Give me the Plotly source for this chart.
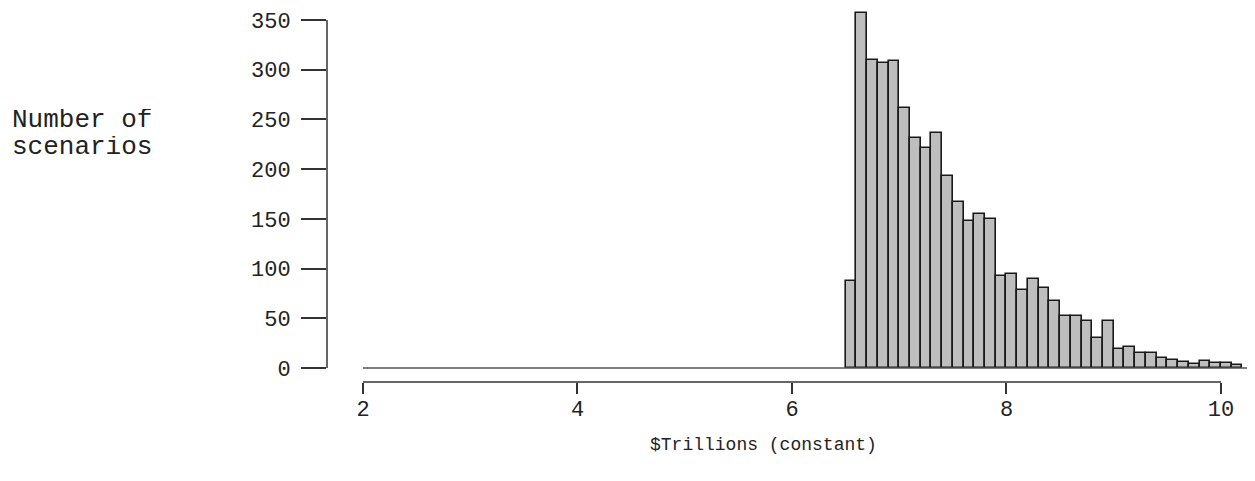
import plotly.graph_objects as go

# ---------------- data ----------------
bin_width = 0.1
first_bin_left = 6.5
counts = [88, 357, 310, 307, 309, 262, 231, 221, 236, 193,
          167, 148, 155, 150, 93, 95, 78, 90, 80, 67,
          52, 52, 47, 30, 47, 19, 21, 15, 15, 10,
          8, 6, 4, 7, 5, 5, 3]
hist_range = [2.0, 10.3]          # full extent of the (mostly empty) bins
x_ticks = [2, 4, 6, 8, 10]
y_ticks = [0, 50, 100, 150, 200, 250, 300, 350]
x_title = "$Trillions (constant)"
y_title_lines = ["Number of", "scenarios"]

bin_centers = [first_bin_left + (i + 0.5) * bin_width for i in range(len(counts))]

FONT = "Courier New, Liberation Mono, monospace"
AXC = "#333333"
TXT = "#222222"

fig = go.Figure()

# zero-height bins appear as a baseline
fig.add_trace(go.Scatter(
    x=hist_range, y=[0, 0], mode="lines",
    line=dict(color="#555555", width=1.5), hoverinfo="skip", showlegend=False))

fig.add_trace(go.Bar(
    x=bin_centers, y=counts, width=bin_width,
    marker=dict(color="#BEBEBE", line=dict(color="#1a1a1a", width=1.6)),
    showlegend=False))

W, H = 1255, 481
ml, mr, mt, mb = 319, 0, 0, 107
plot_w = W - ml - mr
plot_h = H - mt - mb

fig.update_layout(
    width=W, height=H,
    margin=dict(l=ml, r=mr, t=mt, b=mb, pad=0),
    paper_bgcolor="white", plot_bgcolor="white",
    bargap=0,
    font=dict(family=FONT, color=TXT),
    xaxis=dict(range=[1.6643, 10.392], tickvals=x_ticks, ticktext=[str(v) for v in x_ticks],
               ticks="outside", ticklen=11, tickwidth=1.5, tickcolor=AXC,
               showline=False, showgrid=False, zeroline=False,
               tickfont=dict(size=22, family=FONT, color=TXT),
               ticklabelstandoff=-4),
    yaxis=dict(range=[-14.08, 362.1], tickvals=y_ticks, ticktext=[str(v) for v in y_ticks],
               ticks="outside", ticklen=25, tickwidth=1.5, tickcolor=AXC,
               showline=False, showgrid=False, zeroline=False,
               tickfont=dict(size=22, family=FONT, color=TXT),
               ticklabelstandoff=6),
    shapes=[
        dict(type="line", xref="x", yref="paper", x0=x_ticks[0], x1=x_ticks[-1], y0=0, y1=0,
             line=dict(color=AXC, width=1.5), layer="above"),
        dict(type="line", xref="paper", yref="y", x0=0, x1=0, y0=y_ticks[0], y1=y_ticks[-1],
             line=dict(color=AXC, width=1.5), layer="above"),
    ],
    annotations=[
        dict(text=x_title, xref="paper", yref="paper",
             x=(755 - ml) / plot_w, y=(plot_h - (437 - mt)) / plot_h,
             xanchor="center", yanchor="middle", showarrow=False,
             font=dict(size=18, family=FONT, color=TXT)),
        dict(text=y_title_lines[0], xref="paper", yref="paper",
             x=(2 - ml) / plot_w, y=(plot_h - (112 - mt)) / plot_h,
             xanchor="left", yanchor="middle", showarrow=False, height=22,
             font=dict(size=26, family=FONT, color=TXT)),
        dict(text=y_title_lines[1], xref="paper", yref="paper",
             x=(2 - ml) / plot_w, y=(plot_h - (139 - mt)) / plot_h,
             xanchor="left", yanchor="middle", showarrow=False, height=22,
             font=dict(size=26, family=FONT, color=TXT)),
    ],
)

fig.write_html("out.html")
